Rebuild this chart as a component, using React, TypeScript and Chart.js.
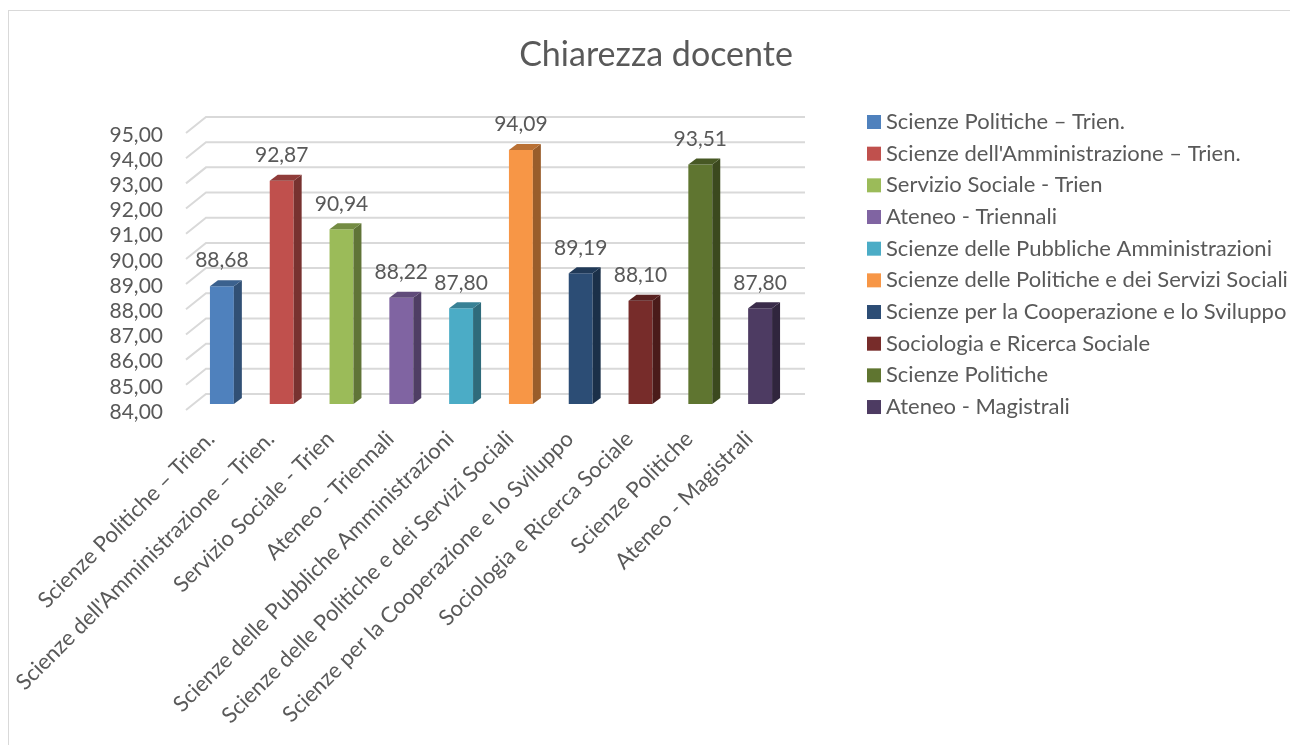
import React, { useEffect, useRef } from "react";
import { Chart, registerables } from "chart.js";

Chart.register(...registerables);

const TITLE = "Chiarezza docente";
const categories = [
  "Scienze Politiche – Trien.",
  "Scienze dell'Amministrazione – Trien.",
  "Servizio Sociale - Trien",
  "Ateneo - Triennali",
  "Scienze delle Pubbliche Amministrazioni",
  "Scienze delle Politiche e dei Servizi Sociali",
  "Scienze per la Cooperazione e lo Sviluppo",
  "Sociologia e Ricerca Sociale",
  "Scienze Politiche",
  "Ateneo - Magistrali",
];
const values = [88.68, 92.87, 90.94, 88.22, 87.8, 94.09, 89.19, 88.1, 93.51, 87.8];
const colors = [
  "#4F81BD",
  "#C0504D",
  "#9BBB59",
  "#8064A2",
  "#4BACC6",
  "#F79646",
  "#2C4D75",
  "#772C2A",
  "#5F7530",
  "#4D3B62",
];
const Y_MIN = 84;
const Y_MAX = 95;
const Y_STEP = 1;

const FONT = "Lato";
const TEXT = "#595959";
const GRID = "#d9d9d9";
const DEPTH_X = 8;
const DEPTH_Y = 6;

function shade(hex: string, f: number): string {
  const n = parseInt(hex.slice(1), 16);
  const r = Math.round(((n >> 16) & 255) * f);
  const g = Math.round(((n >> 8) & 255) * f);
  const b = Math.round((n & 255) * f);
  return `rgb(${r},${g},${b})`;
}

const fmt = (v: number) => v.toFixed(2).replace(".", ",");

const decor = {
  id: "decor",
  beforeDatasetsDraw(chart: any) {
    const { ctx, chartArea } = chart;
    const y = chart.scales.y;
    ctx.save();
    ctx.strokeStyle = GRID;
    ctx.lineWidth = 2;
    y.ticks.forEach((t: any) => {
      const py = y.getPixelForValue(t.value);
      ctx.beginPath();
      ctx.moveTo(chartArea.left - 6, py + 6);
      ctx.lineTo(chartArea.left + 14, py - 10);
      ctx.lineTo(chartArea.right + 15, py - 10);
      ctx.stroke();
    });
    ctx.restore();
  },
  afterDatasetsDraw(chart: any) {
    const { ctx } = chart;
    const yScale = chart.scales.y;
    const base = yScale.getPixelForValue(Y_MIN);
    const meta = chart.getDatasetMeta(0);
    ctx.save();
    meta.data.forEach((bar: any, i: number) => {
      const w = bar.width;
      const l = bar.x - w / 2;
      const r = bar.x + w / 2;
      const top = bar.y;
      const c = colors[i];
      // side face
      ctx.fillStyle = shade(c, 0.62);
      ctx.beginPath();
      ctx.moveTo(r, top);
      ctx.lineTo(r + DEPTH_X, top - DEPTH_Y);
      ctx.lineTo(r + DEPTH_X, base - DEPTH_Y);
      ctx.lineTo(r, base);
      ctx.closePath();
      ctx.fill();
      // top face
      ctx.fillStyle = shade(c, 0.75);
      ctx.beginPath();
      ctx.moveTo(l, top);
      ctx.lineTo(l + DEPTH_X, top - DEPTH_Y);
      ctx.lineTo(r + DEPTH_X, top - DEPTH_Y);
      ctx.lineTo(r, top);
      ctx.closePath();
      ctx.fill();
      // value label
      ctx.fillStyle = TEXT;
      ctx.font = `21px ${FONT}`;
      ctx.textAlign = "center";
      ctx.textBaseline = "middle";
      ctx.fillText(fmt(values[i]), bar.x, top - 25.5);
    });
    ctx.restore();
  },
  afterDraw(chart: any) {
    const { ctx } = chart;
    ctx.save();
    // title
    ctx.fillStyle = TEXT;
    ctx.font = `34px ${FONT}`;
    ctx.textAlign = "center";
    ctx.textBaseline = "alphabetic";
    ctx.fillText(TITLE, 647, 55);
    // legend
    ctx.font = `22px ${FONT}`;
    ctx.textAlign = "left";
    ctx.textBaseline = "middle";
    categories.forEach((name, i) => {
      const cy = 111 + i * 31.67;
      ctx.fillStyle = colors[i];
      ctx.fillRect(858, cy - 7, 14, 14);
      ctx.fillStyle = TEXT;
      ctx.fillText(name, 877, cy);
    });
    ctx.restore();
  },
};

export default function App() {
  const ref = useRef<HTMLCanvasElement | null>(null);
  useEffect(() => {
    if (!ref.current) return;
    const chart = new Chart(ref.current, {
      type: "bar",
      data: {
        labels: categories,
        datasets: [
          {
            data: values,
            backgroundColor: colors,
            borderWidth: 0,
            categoryPercentage: 0.8,
            barPercentage: 0.5,
          },
        ],
      },
      options: {
        animation: false,
        responsive: false,
        layout: { padding: { left: 0, right: 500, top: 116, bottom: 0 } },
        plugins: {
          legend: { display: false },
          title: { display: false },
          tooltip: { enabled: false },
        },
        scales: {
          x: {
            grid: { display: false },
            border: { display: false },
            ticks: {
              autoSkip: false,
              minRotation: 45,
              maxRotation: 45,
              color: TEXT,
              font: { family: FONT, size: 22 },
              padding: 14,
              labelOffset: -11,
            },
            afterFit(scale: any) {
              scale.height = 341;
            },
          },
          y: {
            min: Y_MIN,
            max: Y_MAX,
            grid: { display: false, drawTicks: false },
            border: { display: false },
            ticks: {
              autoSkip: false,
              stepSize: Y_STEP,
              color: TEXT,
              font: { family: FONT, size: 21 },
              padding: 29,
              labelOffset: 8,
              callback: (v: any) => fmt(Number(v)),
            },
            afterFit(scale: any) {
              scale.width = 183;
            },
          },
        },
      },
      plugins: [decor],
    });
    return () => chart.destroy();
  }, []);
  return (
    <div
      style={{
        position: "fixed",
        left: 8,
        top: 10,
        width: 1282,
        height: 735,
        borderTop: "1px solid #d9d9d9",
        borderLeft: "1px solid #d9d9d9",
        background: "#fff",
        overflow: "hidden",
      }}
    >
      <canvas ref={ref} width={1281} height={734} style={{ display: "block" }} />
    </div>
  );
}
